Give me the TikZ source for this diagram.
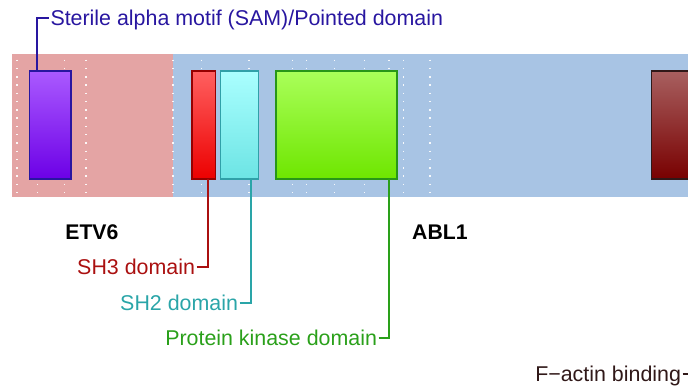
\documentclass[tikz,border=0pt]{standalone}
\usepackage{fontspec}
\setmainfont{Liberation Sans}
\begin{document}
\begin{tikzpicture}[x=1pt,y=-1pt,
  lab/.style={font=\fontsize{21.4}{25}\selectfont, text height=15.3pt, text depth=0pt, inner xsep=1.5pt, inner ysep=0pt, outer sep=0pt},
  gene/.style={font=\fontsize{21.2}{25}\selectfont\bfseries, inner sep=0pt, anchor=base west},
  dom/.style={inner sep=0pt, outer sep=0pt, line width=1.4pt, minimum height=108pt},
  conn/.style={line width=1.9pt},
  dots/.style={white, opacity=0.9, line width=1.4pt, dash pattern=on 1.4pt off 6.87pt}
]
\definecolor{bandred}{RGB}{228,164,164}
\definecolor{bandblue}{RGB}{168,196,228}
\definecolor{samc}{RGB}{40,22,160}
\definecolor{shthree}{RGB}{170,16,16}
\definecolor{shtwo}{RGB}{42,165,168}
\definecolor{kinc}{RGB}{42,160,26}
\definecolor{factc}{RGB}{48,24,24}
\useasboundingbox (0,0) rectangle (688,387);
\clip (0,0) rectangle (688,387);
% bands
\fill[bandred] (12,54) rectangle (172.7,196.7);
\fill[bandblue] (172.7,54) rectangle (720,196.7);
% dotted guide lines
\foreach \xx in {17,37.7,64.3,86,173,201.5,249,292.7,306.3,334.7,364.3,389,403.3,430}
  \draw[dots] (\xx,59.6) -- (\xx,194);
% domains
\node[dom, draw=samc, top color={rgb,255:red,170;green,90;blue,255}, bottom color={rgb,255:red,108;green,0;blue,230}, minimum width=41.7pt] (sam) at (50.2,125) {};
\node[dom, draw={rgb,255:red,150;green,0;blue,0}, top color={rgb,255:red,255;green,96;blue,96}, bottom color={rgb,255:red,236;green,0;blue,0}, minimum width=23.7pt] (sh3) at (203.85,125) {};
\node[dom, draw={rgb,255:red,48;green,160;blue,168}, top color={rgb,255:red,170;green,255;blue,255}, bottom color={rgb,255:red,108;green,228;blue,228}, minimum width=37.6pt] (sh2) at (239.5,125) {};
\node[dom, draw={rgb,255:red,40;green,150;blue,24}, top color={rgb,255:red,170;green,255;blue,90}, bottom color={rgb,255:red,110;green,230;blue,0}, minimum width=121pt] (kin) at (336.5,125) {};
\node[dom, draw=factc, top color={rgb,255:red,168;green,96;blue,96}, bottom color={rgb,255:red,120;green,0;blue,0}, minimum width=80pt] (fact) at (691.7,125) {};
% gene names
\node[gene] (etv) at (65.2,239.5) {ETV6};
\node[gene] (abl) at (412,239.5) {ABL1};
% labels
\node[lab, samc, anchor=west] (samlab) at (49,18.3) {Sterile alpha motif (SAM)/Pointed domain};
\node[lab, shthree, anchor=east] (sh3lab) at (196.5,267.3) {SH3 domain};
\node[lab, shtwo, anchor=east] (sh2lab) at (239.5,303.3) {SH2 domain};
\node[lab, kinc, anchor=east] (kinlab) at (378.5,337.8) {Protein kinase domain};
\node[lab, factc, anchor=east] (factlab) at (682.5,374.2) {F−actin binding};
\coordinate (fend) at (700,374.2);
% connectors
\draw[conn, samc] ([xshift=-13.5pt]sam.north) |- (samlab.west);
\draw[conn, shthree] (sh3lab.east) -| ([xshift=4.45pt]sh3.south);
\draw[conn, shtwo] (sh2lab.east) -| ([xshift=11.2pt]sh2.south);
\draw[conn, kinc] (kinlab.east) -| ([xshift=52.8pt]kin.south);
\draw[conn, factc] (factlab.east) -- (fend);
\end{tikzpicture}
\end{document}
